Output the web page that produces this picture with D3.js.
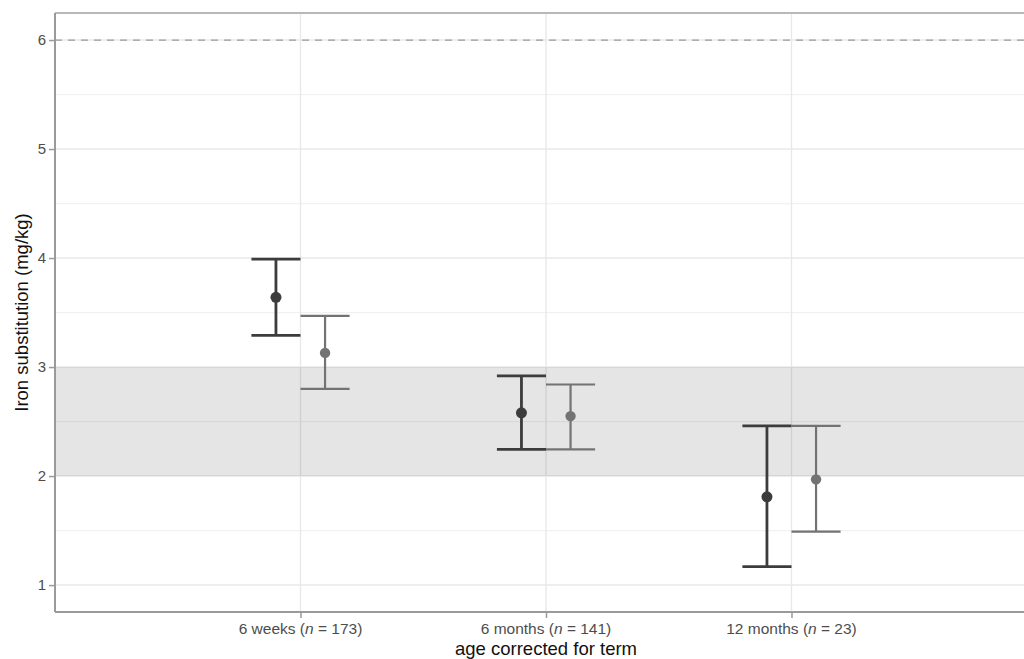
<!DOCTYPE html>
<html>
<head>
<meta charset="utf-8">
<script src="https://cdn.jsdelivr.net/npm/d3@7"></script>
<style>
  html, body { margin: 0; padding: 0; background: #fff; }
  svg { display: block; font-family: "Liberation Sans", Arial, Helvetica, sans-serif; }
</style>
</head>
<body>
<svg id="chart" width="1024" height="659"></svg>
<script>
// ---- data ----
const categories = ["6 weeks", "6 months", "12 months"];
const sampleSizes = [173, 141, 23];
const groups = ["A", "B"];
const meanA  = [3.64, 2.58, 1.81];
const lowerA = [3.29, 2.245, 1.17];
const upperA = [3.99, 2.92, 2.46];
const meanB  = [3.13, 2.55, 1.97];
const lowerB = [2.80, 2.245, 1.49];
const upperB = [3.47, 2.84, 2.46];
const yTicks = [1, 2, 3, 4, 5, 6];
const yMinorTicks = [1.5, 2.5, 3.5, 4.5, 5.5];
const targetBand = [2, 3];
const referenceLine = 6;
const yTitle = "Iron substitution (mg/kg)";
const xTitle = "age corrected for term";

// ---- layout ----
const W = 1024, H = 659;
const panel = { left: 55, top: 13, bottom: 612, right: 1037 };
const svg = d3.select("#chart");

const x = d3.scaleLinear().domain([0, categories.length + 1]).range([panel.left, panel.right]);
const y = d3.scaleLinear().domain([0.753, 6.248]).range([panel.bottom, panel.top]);
const dodge = d3.scaleOrdinal().domain(groups).range([-0.1, 0.1]);
const capHalf = 0.1;
const colors = { A: "#3c3c3c", B: "#737373" };
const widths = { A: 2.8, B: 2.2 };
const radii = { A: 5.5, B: 5.2 };

const rows = [];
categories.forEach((c, i) => {
  rows.push({ cat: i + 1, g: "A", mean: meanA[i], lo: lowerA[i], hi: upperA[i] });
  rows.push({ cat: i + 1, g: "B", mean: meanB[i], lo: lowerB[i], hi: upperB[i] });
});

const clip = svg.append("clipPath").attr("id", "pclip").append("rect")
  .attr("x", panel.left).attr("y", panel.top)
  .attr("width", panel.right - panel.left).attr("height", panel.bottom - panel.top);

const g = svg.append("g").attr("clip-path", "url(#pclip)");
g.append("rect").attr("x", panel.left).attr("y", panel.top)
  .attr("width", panel.right - panel.left).attr("height", panel.bottom - panel.top)
  .attr("fill", "#fff");

// minor grid
g.selectAll(".yminor").data(yMinorTicks).join("line")
  .attr("x1", panel.left).attr("x2", panel.right)
  .attr("y1", d => y(d)).attr("y2", d => y(d))
  .attr("stroke", "#f1f1f1").attr("stroke-width", 1.2);
// major grid
g.selectAll(".ymajor").data(yTicks).join("line")
  .attr("x1", panel.left).attr("x2", panel.right)
  .attr("y1", d => y(d)).attr("y2", d => y(d))
  .attr("stroke", "#e8e8e8").attr("stroke-width", 1.4);
g.selectAll(".xmajor").data(categories.map((c, i) => i + 1)).join("line")
  .attr("y1", panel.top).attr("y2", panel.bottom)
  .attr("x1", d => x(d)).attr("x2", d => x(d))
  .attr("stroke", "#e8e8e8").attr("stroke-width", 1.4);

// band
g.append("rect")
  .attr("x", panel.left).attr("width", panel.right - panel.left)
  .attr("y", y(targetBand[1])).attr("height", y(targetBand[0]) - y(targetBand[1]))
  .attr("fill", "#000").attr("fill-opacity", 0.1);

// reference dashed line
g.append("line")
  .attr("x1", panel.left).attr("x2", panel.right)
  .attr("y1", y(referenceLine)).attr("y2", y(referenceLine))
  .attr("stroke", "#9a9a9a").attr("stroke-width", 1.3)
  .attr("stroke-dasharray", "7,6");

// error bars
const eb = g.selectAll(".eb").data(rows).join("g");
eb.append("line")
  .attr("x1", d => x(d.cat + dodge(d.g))).attr("x2", d => x(d.cat + dodge(d.g)))
  .attr("y1", d => y(d.lo)).attr("y2", d => y(d.hi))
  .attr("stroke", d => colors[d.g]).attr("stroke-width", d => widths[d.g]);
eb.append("line")
  .attr("x1", d => x(d.cat + dodge(d.g) - capHalf)).attr("x2", d => x(d.cat + dodge(d.g) + capHalf))
  .attr("y1", d => y(d.hi)).attr("y2", d => y(d.hi))
  .attr("stroke", d => colors[d.g]).attr("stroke-width", d => widths[d.g]);
eb.append("line")
  .attr("x1", d => x(d.cat + dodge(d.g) - capHalf)).attr("x2", d => x(d.cat + dodge(d.g) + capHalf))
  .attr("y1", d => y(d.lo)).attr("y2", d => y(d.lo))
  .attr("stroke", d => colors[d.g]).attr("stroke-width", d => widths[d.g]);
eb.append("circle")
  .attr("cx", d => x(d.cat + dodge(d.g))).attr("cy", d => y(d.mean))
  .attr("r", d => radii[d.g]).attr("fill", d => colors[d.g]);

// panel border
svg.append("line").attr("x1", panel.left).attr("x2", W)
  .attr("y1", panel.top).attr("y2", panel.top)
  .attr("stroke", "#b8b8b8").attr("stroke-width", 2);

// axes
const yAxis = d3.axisLeft(y).tickValues(yTicks).tickSize(6).tickPadding(3).tickFormat(d3.format("d"));
const ya = svg.append("g").attr("transform", `translate(${panel.left},0)`).call(yAxis);
ya.select(".domain").attr("stroke", "#9a9a9a").attr("stroke-width", 2)
  .attr("d", `M0,${panel.top}V${panel.bottom}`);
ya.selectAll(".tick line").attr("stroke", "#9a9a9a").attr("stroke-width", 1.5);
ya.selectAll(".tick text").attr("fill", "#4d4d4d").style("font-size", "15px");

const xAxis = d3.axisBottom(x).tickValues(categories.map((c, i) => i + 1)).tickSize(6).tickPadding(4).tickFormat(() => "");
const xa = svg.append("g").attr("transform", `translate(0,${panel.bottom})`).call(xAxis);
xa.select(".domain").attr("stroke", "#9a9a9a").attr("stroke-width", 2)
  .attr("d", `M${panel.left},0H${W}`);
xa.selectAll(".tick line").attr("stroke", "#9a9a9a").attr("stroke-width", 1.5);
xa.selectAll(".tick text").remove();

// x tick labels with italic n
const xl = svg.append("g").selectAll("text").data(categories).join("text")
  .attr("x", (d, i) => x(i + 1)).attr("y", 634)
  .attr("text-anchor", "middle").attr("fill", "#4d4d4d").style("font-size", "15.5px");
xl.append("tspan").text(d => d + " (");
xl.append("tspan").style("font-style", "italic").text("n");
xl.append("tspan").text((d, i) => " = " + sampleSizes[i] + ")");

// titles
svg.append("text")
  .attr("transform", `translate(28,${(panel.top + panel.bottom) / 2}) rotate(-90)`)
  .attr("text-anchor", "middle").attr("fill", "#111").style("font-size", "18.5px")
  .text(yTitle);
svg.append("text")
  .attr("x", (panel.left + panel.right) / 2).attr("y", 655)
  .attr("text-anchor", "middle").attr("fill", "#111").style("font-size", "18.5px")
  .text(xTitle);
</script>
</body>
</html>
